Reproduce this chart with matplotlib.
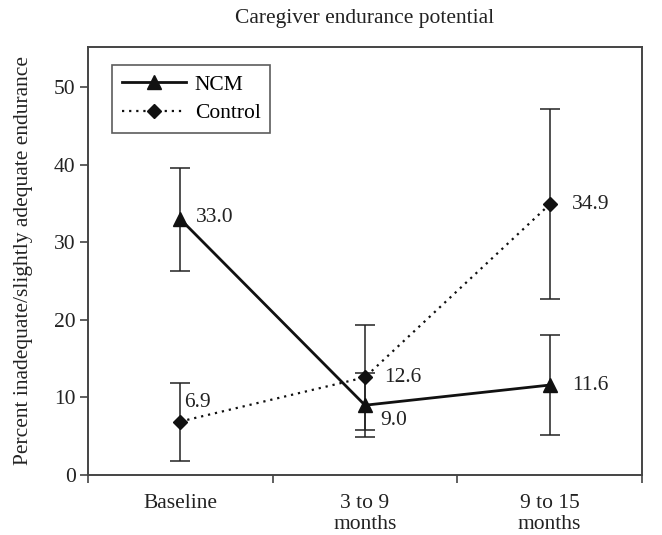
import matplotlib
matplotlib.use("Agg")
import matplotlib.pyplot as plt

categories = ["Baseline", "3 to 9\nmonths", "9 to 15\nmonths"]
ncm = [33.0, 9.0, 11.6]
ncm_lo = [26.3, 4.9, 5.2]
ncm_hi = [39.6, 13.1, 18.0]
control = [6.9, 12.6, 34.9]
control_lo = [1.8, 5.8, 22.7]
control_hi = [11.9, 19.4, 47.2]
yticks = [0, 10, 20, 30, 40, 50]

plt.rcParams['font.family'] = ['Liberation Serif', 'DejaVu Serif']
FS = 15.5

fig = plt.figure(figsize=(6.62, 5.35), dpi=100)
ax = fig.add_axes([88/662, 1-475/535, (642-88)/662, (475-47)/535])

x = list(range(len(categories)))

ncm_err = [[v - l for v, l in zip(ncm, ncm_lo)], [h - v for v, h in zip(ncm, ncm_hi)]]
ctl_err = [[v - l for v, l in zip(control, control_lo)], [h - v for v, h in zip(control, control_hi)]]

ax.errorbar(x, control, yerr=ctl_err, fmt='none', ecolor='#222222', elinewidth=1.1, capsize=7, capthick=1.1, zorder=2)
ax.errorbar(x, ncm, yerr=ncm_err, fmt='none', ecolor='#222222', elinewidth=1.1, capsize=7, capthick=1.1, zorder=2)

ax.plot(x, ncm, color='#111111', linestyle='-', linewidth=2, marker='^', markersize=10, label='NCM', zorder=3)
ax.plot(x, control, color='#111111', linestyle=(0, (1, 2.2)), linewidth=1.6, marker='D', markersize=7.5, label='Control', zorder=3)

offsets_ncm = [(11, 1), (11, -11), (16, 0)]
offsets_ctl = [(3, 14), (14, 0), (16, 0)]
for xi, v, off in zip(x, ncm, offsets_ncm):
    ax.annotate(f"{v:.1f}", (xi, v), xytext=off, textcoords='offset points',
                ha='left', va='center', fontsize=FS, color='#222222')
for xi, v, off in zip(x, control, offsets_ctl):
    ax.annotate(f"{v:.1f}", (xi, v), xytext=off, textcoords='offset points',
                ha='left', va='center', fontsize=FS, color='#222222')

ax.set_xlim(-0.5, 2.5)
ax.set_ylim(0, 55.2)
ax.set_yticks(yticks)
ax.set_yticklabels([str(t) for t in yticks], fontsize=FS)
ax.set_xticks([-0.5, 0.5, 1.5, 2.5])
ax.set_xticklabels([])
ax.set_xticks(x, minor=True)
ax.set_xticklabels(categories, minor=True, fontsize=FS, linespacing=1.08)
ax.tick_params(axis='x', which='minor', length=0, pad=14, labelcolor='#222222')
ax.tick_params(axis='x', which='major', direction='out', length=6, width=1.2, color='#444444')
ax.tick_params(axis='y', direction='out', length=6, width=1.2, color='#444444', labelcolor='#222222', pad=3)
for s in ax.spines.values():
    s.set_color('#444444')
    s.set_linewidth(1.4)

ax.set_ylabel("Percent inadequate/slightly adequate endurance", fontsize=FS, color='#222222', labelpad=15)
ax.set_title("Caregiver endurance potential", fontsize=FS, color='#222222', pad=17)

leg = ax.legend(loc='upper left', bbox_to_anchor=(0.043, 0.958), fontsize=FS, frameon=True,
                fancybox=False, edgecolor='#333333', handlelength=3.0, borderpad=0.45,
                labelspacing=0.4, handletextpad=0.4, borderaxespad=0)
leg.get_frame().set_linewidth(1.2)

fig.savefig("out.png", dpi=100)
